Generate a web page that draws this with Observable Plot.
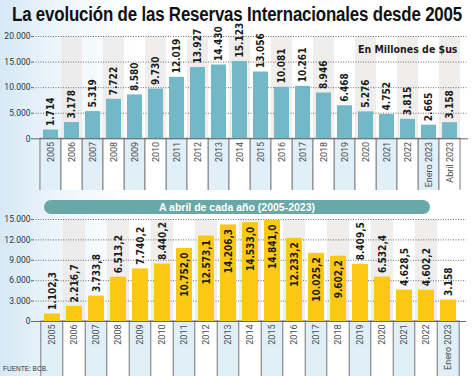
<!DOCTYPE html>
<html>
<head>
<meta charset="utf-8">
<script src="https://cdn.jsdelivr.net/npm/d3@7"></script>
<script src="https://cdn.jsdelivr.net/npm/@observablehq/plot@0.6"></script>
<style>
  html, body { margin: 0; padding: 0; }
  body { width: 474px; height: 376px; overflow: hidden; position: relative;
         background: linear-gradient(to right, #d5e9f5 0px, #eef6fb 60px, #ffffff 140px); font-family: "Liberation Sans", Arial, sans-serif; }
  #title { position: absolute; left: 12px; top: 3px; font-size: 19.5px; font-weight: bold; color: #111; white-space: nowrap; transform-origin: left top; letter-spacing: -0.2px; }
  #top { position: absolute; left: 0; top: 22px; }
  #bottom { position: absolute; left: 0; top: 204px; }
  #banner { position: absolute; left: 44px; top: 200px; width: 386px; height: 14px; border-radius: 7px; background: #68a8a6; color: #fff;
            font: bold 10.5px "Liberation Sans Narrow", "Liberation Sans", Arial, sans-serif; text-align: center; line-height: 14px; }
  #foot { position: absolute; left: 3px; top: 365px; font: 6.5px "Liberation Sans Narrow", "Liberation Sans", sans-serif; color: #333; }
</style>
</head>
<body>
<div id="title">La evolución de las Reservas Internacionales desde 2005</div>
<div id="banner">A abril de cada año (2005-2023)</div>
<div id="top"></div>
<div id="bottom"></div>
<div id="foot">FUENTE: BCB.</div>
<script>
// ---- data ----
const years = ["2005","2006","2007","2008","2009","2010","2011","2012","2013","2014","2015","2016","2017","2018","2019","2020","2021","2022","Enero 2023","Abril 2023"];
const reservas = [1714, 3178, 5319, 7722, 8580, 9730, 12019, 13927, 14430, 15123, 13056, 10081, 10261, 8946, 6468, 5276, 4752, 3815, 2665, 3158];
const abrilYears = ["2005","2006","2007","2008","2009","2010","2011","2012","2013","2014","2015","2016","2017","2018","2019","2020","2021","2022","Enero 2023"];
const abrilValues = [1102.3, 2216.7, 3733.8, 6513.2, 7740.2, 8440.2, 10752.0, 12573.1, 14206.3, 14533.0, 14841.0, 12233.2, 10025.2, 9602.2, 8409.5, 6532.4, 4628.5, 4602.2, 3158];
const abrilInside = ["2011","2012","2013","2014","2015","2016","2017","2018"];
const topTicks = [0, 5000, 10000, 15000, 20000];
const bottomTicks = [0, 3000, 6000, 9000, 12000, 15000];
const unitsLabel = "En Millones de $us";

// ---- helpers ----
const loc = d3.formatLocale({decimal: ",", thousands: ".", grouping: [3], currency: ["$", ""]});
const fInt = loc.format(",d");
const fDec = loc.format(",.1f");
const narrow = "'Liberation Sans Narrow', 'DejaVu Sans Condensed', Arial, sans-serif";
const regular = "Roboto, 'Open Sans', 'Liberation Sans', Arial, sans-serif";
const padIn = 0.28;

function chart({cats, vals, labelFn, inside, ticks, yTop, yBottom, height, marginTop, marginRight, color, extra = []}) {
  const W = 474, marginLeft = 33;
  const data = cats.map((c, i) => ({c, v: vals[i], i}));
  const step = (W - marginLeft - marginRight) / cats.length;
  const ext = -step * padIn / 2;
  const odd = data.filter(d => d.i % 2 === 1), even = data.filter(d => d.i % 2 === 0);
  const ins = data.filter(d => inside.includes(d.c)), out = data.filter(d => !inside.includes(d.c));
  return Plot.plot({
    width: W, height, marginLeft, marginRight, marginTop, marginBottom: 0,
    style: {background: "transparent", overflow: "hidden"},
    x: {domain: cats, paddingInner: padIn, paddingOuter: padIn / 2, axis: null},
    y: {domain: [yBottom, yTop], axis: null},
    marks: [
      Plot.barY(odd, {x: "c", y1: 0, y2: yTop, fill: "#e9e7e6", fillOpacity: 0.7, insetLeft: ext, insetRight: ext}),
      Plot.barY(even, {x: "c", y1: yBottom * 1.3, y2: 0, fill: "#e0eff8", stroke: "#7c7c7c", insetLeft: ext, insetRight: ext}),
      Plot.barY(odd, {x: "c", y1: yBottom * 1.3, y2: 0, fill: "#ffffff", stroke: "#7c7c7c", insetLeft: ext, insetRight: ext}),
      Plot.gridY(ticks.slice(1), {stroke: "#6f6f6f", strokeOpacity: 1, strokeDasharray: "1,1.5"}),
      Plot.barY(data, {x: "c", y: "v", fill: color}),
      Plot.ruleY([0], {stroke: "#6a6a6a"}),
      Plot.axisY(ticks, {label: null, tickSize: 2, tickPadding: 1, tickFormat: fInt, fontSize: 8.5, fill: "#333", stroke: "#666", fontFamily: regular}),
      Plot.text(out, {x: "c", y: "v", text: labelFn, rotate: -90, textAnchor: "start", dy: -4, fontSize: 10, fontWeight: "bold", fill: "#1b1b1b", fontFamily: narrow}),
      Plot.text(ins, {x: "c", y: "v", text: labelFn, rotate: -90, textAnchor: "end", dy: 4, fontSize: 10, fontWeight: "bold", fill: "#1b1b1b", fontFamily: narrow}),
      Plot.text(data, {x: "c", y: 0, text: "c", rotate: -90, textAnchor: "end", dy: 3, fontSize: 9, fill: "#4a4a4a", fontFamily: regular}),
      ...extra
    ]
  });
}

const topPlot = chart({
  cats: years, vals: reservas, labelFn: d => fInt(d.v), inside: [],
  ticks: topTicks, yTop: 20000, yBottom: -10100, height: 168, marginTop: 14, marginRight: 6, color: "#72b8c6",
  extra: [Plot.text([unitsLabel], {frameAnchor: "top-right", dx: -11, dy: 13, lineAnchor: "middle", fontSize: 10.5, fontWeight: "bold", fill: "#1b1b1b", fontFamily: narrow})]
});
document.getElementById("top").appendChild(topPlot);

const bottomPlot = chart({
  cats: abrilYears, vals: abrilValues,
  labelFn: d => (d.i === abrilValues.length - 1 ? fInt(d.v) : fDec(d.v)),
  inside: abrilInside, ticks: bottomTicks, yTop: 15000, yBottom: -8088, height: 172, marginTop: 15, marginRight: 8, color: "#fbc814"
});
document.getElementById("bottom").appendChild(bottomPlot);

// fit title width
const t = document.getElementById("title");
const w = t.getBoundingClientRect().width;
t.style.transform = `scaleX(${450 / w})`;
</script>
</body>
</html>
